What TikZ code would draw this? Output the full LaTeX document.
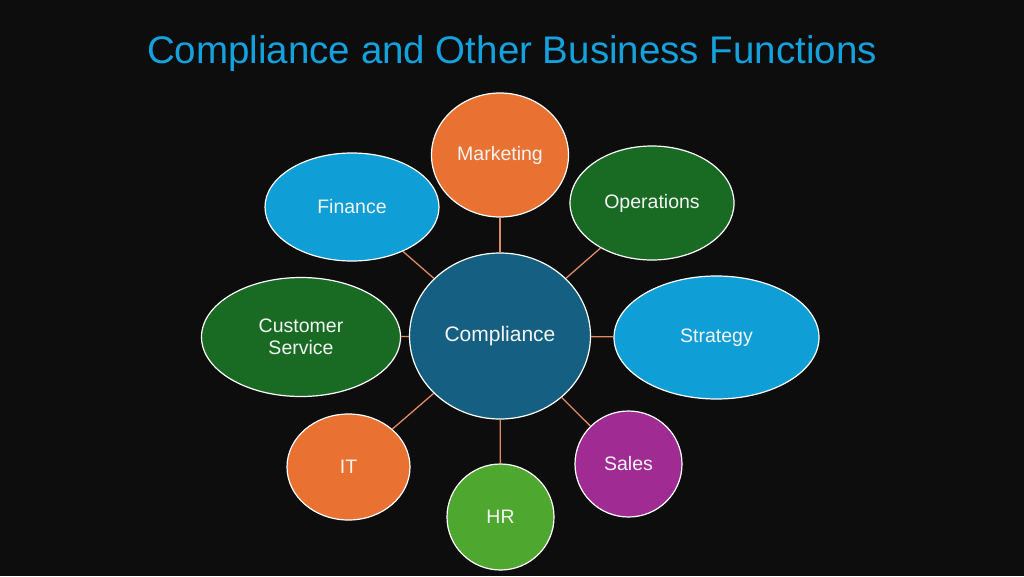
\documentclass[tikz,border=0pt]{standalone}
\usepackage{fontspec}
\setmainfont{Liberation Sans}
\usetikzlibrary{shapes.geometric}
\definecolor{bg}{HTML}{0D0D0D}
\definecolor{titleblue}{HTML}{14A2DE}
\definecolor{cmpblue}{HTML}{156082}
\definecolor{orng}{HTML}{E97132}
\definecolor{dgreen}{HTML}{196B24}
\definecolor{cyanb}{HTML}{0F9ED5}
\definecolor{purp}{HTML}{A02B93}
\definecolor{lgreen}{HTML}{4EA72E}
\definecolor{linkc}{HTML}{E08A60}
\definecolor{txt}{HTML}{F4F4F4}
\tikzset{
  bubble/.style={ellipse, draw=white, line width=1.2pt, inner sep=0pt,
    text=txt, align=center, font=\fontsize{19.5}{21.5}\selectfont},
  link/.style={draw=linkc, line width=1.3pt}
}
\begin{document}
\begin{tikzpicture}[x=1pt,y=-1pt]
\fill[bg] (0,0) rectangle (1024,576);
\useasboundingbox (0,0) rectangle (1024,576);
\node[anchor=base, text=titleblue, font=\fontsize{38.5}{40}\selectfont] (title) at (512,63.5) {Compliance and Other Business Functions};
\node[bubble, fill=cmpblue, minimum width=181pt, minimum height=166pt, font=\fontsize{21}{23}\selectfont] (comp) at (500,336) {Compliance};
\node[bubble, fill=orng, minimum width=137pt, minimum height=124pt] (mkt) at (500,155) {Marketing};
\node[bubble, fill=cyanb, minimum width=174pt, minimum height=108pt] (fin) at (352,207) {Finance};
\node[bubble, fill=dgreen, minimum width=164pt, minimum height=114pt] (ops) at (652,203) {Operations};
\node[bubble, fill=dgreen, minimum width=199pt, minimum height=119pt] (cs) at (301,337) {Customer\\Service};
\node[bubble, fill=cyanb, minimum width=205pt, minimum height=123pt] (str) at (716.5,337.5) {Strategy};
\node[bubble, fill=orng, minimum width=123pt, minimum height=106pt] (it) at (348.5,467) {IT};
\node[bubble, fill=lgreen, minimum width=107pt, minimum height=106pt] (hr) at (500.5,517) {HR};
\node[bubble, fill=purp, minimum width=107pt, minimum height=106pt] (sal) at (628.5,464) {Sales};
\foreach \n in {mkt,fin,ops,cs,str,it,hr,sal}{
  \draw[link] (comp) -- (\n);
}
\end{tikzpicture}
\end{document}
